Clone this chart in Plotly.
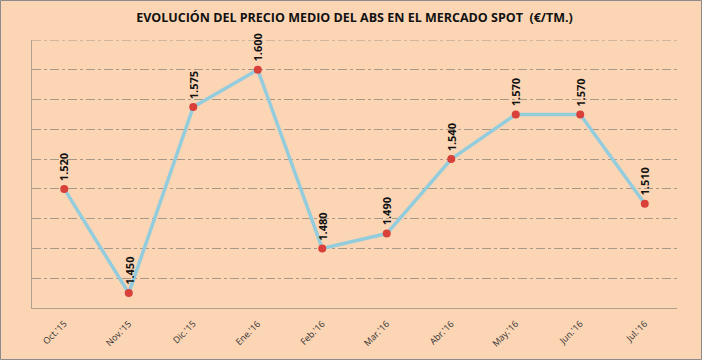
import plotly.graph_objects as go

months = ["Oct.'15", "Nov.'15", "Dic.'15", "Ene.'16", "Feb.'16", "Mar.'16",
          "Abr.'16", "May.'16", "Jun.'16", "Jul.'16"]
prices = [1520, 1450, 1575, 1600, 1480, 1490, 1540, 1570, 1570, 1510]
title_text = "EVOLUCIÓN DEL PRECIO MEDIO DEL ABS EN EL MERCADO SPOT  (€/TM.)"
y_min, y_max, y_step = 1440, 1620, 20

W, H = 702, 360
ml, mr, mt, mb = 32, 25, 40, 52
pw, ph = W - ml - mr, H - mt - mb

fig = go.Figure()
fig.add_trace(go.Scatter(
    x=months, y=prices, mode="lines+markers",
    line=dict(color="#93CDDD", width=3.5),
    marker=dict(color="#D9403A", size=8),
    hoverinfo="skip",
))

for m, v in zip(months, prices):
    fig.add_annotation(
        x=m, y=v, text="<b>" + f"{v:,}".replace(",", ".") + "</b>",
        textangle=-90, showarrow=False, yanchor="bottom", xanchor="center",
        yshift=6, font=dict(family="Open Sans, Liberation Sans, sans-serif", size=11, color="#111"),
    )

# top gridline (plotly omits the one lying on the plot edge)
fig.add_shape(type="line", xref="paper", yref="y", x0=0, x1=1, y0=y_max, y1=y_max,
              line=dict(color="#a89888", width=1, dash="dashdot"), layer="below")

fig.add_shape(type="rect", xref="paper", yref="paper",
              x0=(0.5 - ml) / pw, x1=(W - 0.5 - ml) / pw,
              y0=-(mb - 0.5) / ph, y1=1 + (mt - 0.5) / ph,
              line=dict(color="#8c8c8c", width=1), layer="below")

fig.update_layout(
    width=W, height=H,
    margin=dict(l=ml, r=mr, t=mt, b=mb),
    paper_bgcolor="#FCD5B5", plot_bgcolor="#FCD5B5",
    showlegend=False,
    title=dict(text="<b>" + title_text + "</b>", x=0.5, xref="paper", xanchor="center",
               y=1 - 18 / H, yanchor="middle",
               font=dict(family="Open Sans, Liberation Sans, sans-serif", size=12.5, color="#111")),
    xaxis=dict(
        type="category", range=[-0.5, 9.5], tickangle=-45,
        showgrid=False, showline=True, linecolor="#b0a090", linewidth=1,
        ticks="", ticklabelstandoff=6,
        tickfont=dict(family="Open Sans, Liberation Sans, sans-serif", size=9, color="#333"),
        zeroline=False,
    ),
    yaxis=dict(
        range=[y_min, y_max], dtick=y_step, tick0=y_min, showticklabels=False,
        showgrid=True, gridcolor="#a89888", griddash="dashdot", gridwidth=1,
        showline=True, linecolor="#b0a090", linewidth=1, zeroline=False, ticks="",
    ),
)

fig.write_html("out.html", config={"displayModeBar": False, "staticPlot": True},
               post_script="document.body.style.margin='0';document.body.style.padding='0';")
